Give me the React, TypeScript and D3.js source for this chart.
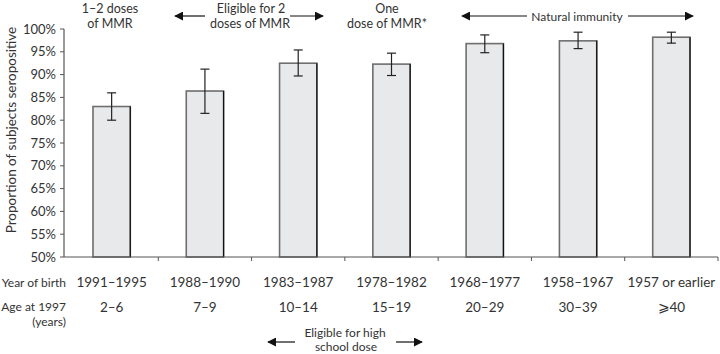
import React, { useEffect, useRef } from "react";
import * as d3 from "d3";

const birthYears = ["1991\u20131995", "1988\u20131990", "1983\u20131987", "1978\u20131982", "1968\u20131977", "1958\u20131967", "1957 or earlier"];
const ageGroups = ["2\u20136", "7\u20139", "10\u201314", "15\u201319", "20\u201329", "30\u201339", "\u2a7e40"];
const seropositive = [83.0, 86.4, 92.5, 92.3, 96.8, 97.4, 98.2];
const ciLow = [80.0, 81.5, 89.7, 89.8, 94.8, 95.7, 96.9];
const ciHigh = [86.0, 91.2, 95.4, 94.7, 98.7, 99.3, 99.3];
const yTicks = [50, 55, 60, 65, 70, 75, 80, 85, 90, 95, 100];

const W = 720;
const H = 354;
const FONT = "Lato, 'Open Sans', sans-serif";
const TXT = "#333";

const App: React.FC = () => {
  const svgRef = useRef<SVGSVGElement | null>(null);

  useEffect(() => {
    document.body.style.margin = "0";
    if (!svgRef.current) return;
    const svg = d3.select(svgRef.current);
    svg.selectAll("*").remove();

    const x0 = 65;
    const x1 = 718;
    const yTop = 29;
    const yBot = 257;

    const x = d3
      .scaleBand<string>()
      .domain(birthYears)
      .range([x0, x1])
      .paddingInner(0.6)
      .paddingOuter(0.3);
    const y = d3.scaleLinear().domain([50, 100]).range([yBot, yTop]);
    const step = x.step();

    const defs = svg.append("defs");
    defs
      .append("marker")
      .attr("id", "ah")
      .attr("viewBox", "0 0 10 10")
      .attr("refX", 9)
      .attr("refY", 5)
      .attr("markerWidth", 9)
      .attr("markerHeight", 9)
      .attr("markerUnits", "userSpaceOnUse")
      .attr("orient", "auto-start-reverse")
      .append("path")
      .attr("d", "M0,0L10,5L0,10z")
      .attr("fill", "#111");

    // bars
    const g = svg.append("g");
    birthYears.forEach((c, i) => {
      const bx = x(c) ?? 0;
      const bw = x.bandwidth();
      g.append("rect")
        .attr("x", bx)
        .attr("y", y(seropositive[i]))
        .attr("width", bw)
        .attr("height", yBot - y(seropositive[i]))
        .attr("fill", "#e8e9ea")
        .attr("stroke", "#6e6e6e")
        .attr("stroke-width", 1.6);
      g.append("line")
        .attr("x1", bx + bw)
        .attr("x2", bx + bw)
        .attr("y1", y(seropositive[i]))
        .attr("y2", yBot)
        .attr("stroke", "#111")
        .attr("stroke-width", 1.2);
      const cx = bx + bw / 2;
      const eb = g.append("g").attr("stroke", "#222").attr("stroke-width", 1.2);
      eb.append("line").attr("x1", cx).attr("x2", cx).attr("y1", y(ciHigh[i])).attr("y2", y(ciLow[i]));
      eb.append("line").attr("x1", cx - 4.5).attr("x2", cx + 4.5).attr("y1", y(ciHigh[i])).attr("y2", y(ciHigh[i]));
      eb.append("line").attr("x1", cx - 4.5).attr("x2", cx + 4.5).attr("y1", y(ciLow[i])).attr("y2", y(ciLow[i]));
    });

    // y axis
    svg
      .append("line")
      .attr("x1", 64)
      .attr("x2", 64)
      .attr("y1", yTop)
      .attr("y2", yBot)
      .attr("stroke", "#555")
      .attr("stroke-width", 1.2);
    const yt = svg.append("g");
    yTicks.forEach((t) => {
      yt.append("line").attr("x1", 60).attr("x2", 64).attr("y1", y(t)).attr("y2", y(t)).attr("stroke", "#555");
      yt.append("text")
        .attr("x", 56)
        .attr("y", y(t))
        .attr("dy", "0.35em")
        .attr("text-anchor", "end")
        .attr("font-size", 13)
        .attr("font-family", FONT)
        .attr("fill", TXT)
        .text(`${t}%`);
    });

    // x axis
    svg
      .append("line")
      .attr("x1", 64)
      .attr("x2", x1)
      .attr("y1", yBot)
      .attr("y2", yBot)
      .attr("stroke", "#555")
      .attr("stroke-width", 1.2);
    birthYears.forEach((c) => {
      const bx = (x(c) ?? 0) - step * 0.3 + step;
      svg.append("line").attr("x1", bx).attr("x2", bx).attr("y1", yBot).attr("y2", yBot + 4).attr("stroke", "#555");
    });

    const text = (
      tx: number,
      ty: number,
      s: string,
      anchor = "middle",
      size = 12.5
    ) =>
      svg
        .append("text")
        .attr("x", tx)
        .attr("y", ty)
        .attr("text-anchor", anchor)
        .attr("font-size", size)
        .attr("font-family", FONT)
        .attr("fill", TXT)
        .text(s);

    birthYears.forEach((c, i) => {
      const cx = (x(c) ?? 0) + x.bandwidth() / 2;
      text(cx, 287, c, "middle", 13.5);
      text(cx, 312, ageGroups[i], "middle", 13.5);
    });
    text(66, 287, "Year of birth", "end", 12);
    text(66, 311, "Age at 1997", "end", 12);
    text(66, 326, "(years)", "end", 12);

    // y label
    svg
      .append("text")
      .attr("transform", `translate(16,${(yTop + yBot) / 2 - 13}) rotate(-90)`)
      .attr("text-anchor", "middle")
      .attr("font-size", 13.5)
      .attr("font-family", FONT)
      .attr("fill", TXT)
      .text("Proportion of subjects seropositive");

    const arrow = (ax1: number, ax2: number, ay: number) =>
      svg
        .append("line")
        .attr("x1", ax1)
        .attr("x2", ax2)
        .attr("y1", ay)
        .attr("y2", ay)
        .attr("stroke", "#111")
        .attr("stroke-width", 1.2)
        .attr("marker-end", "url(#ah)");

    // annotations top
    text(110, 13, "1\u20132 doses");
    text(110, 28, "of MMR");
    text(251, 13, "Eligible for 2");
    text(250, 28, "doses of MMR");
    arrow(205, 175, 16);
    arrow(290, 323, 16);
    text(387, 13, "One");
    text(387, 28, "dose of MMR*");
    text(577, 20.5, "Natural immunity", "middle", 12);
    arrow(527, 462, 16);
    arrow(628, 693, 16);

    // annotation bottom
    text(345, 337, "Eligible for high", "middle", 12);
    text(346, 351, "school dose", "middle", 12);
    arrow(295, 268, 342);
    arrow(396, 422, 342);
  }, []);

  return <svg ref={svgRef} width={W} height={H} style={{ display: "block" }} />;
};

export default App;
